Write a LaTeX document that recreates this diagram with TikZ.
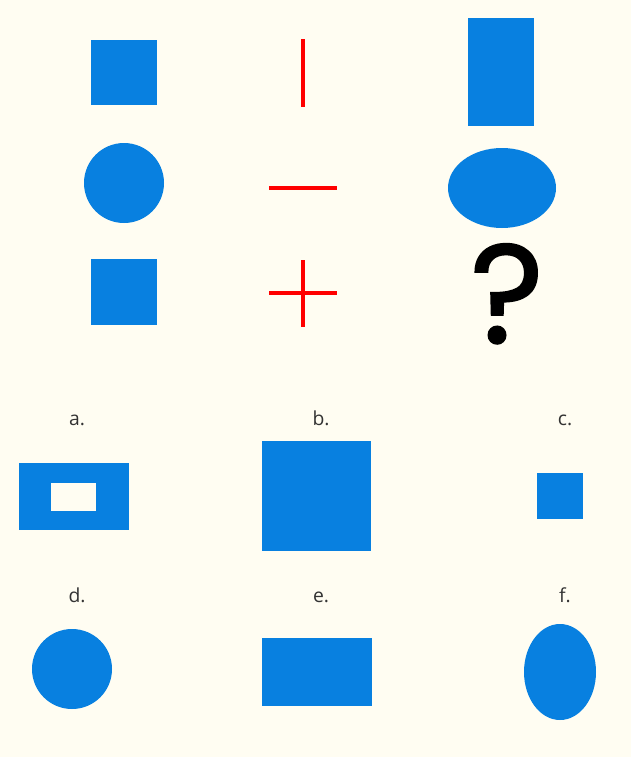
\documentclass[tikz,border=0pt]{standalone}
\usepackage{fontspec}
\setmainfont{Open Sans}
\newfontfamily\questfont{Poppins}[FakeBold=1.3]
\usetikzlibrary{positioning,shapes.geometric}
\definecolor{pzBack}{HTML}{FFFDF2}
\definecolor{pzBlue}{HTML}{0880E0}
\definecolor{pzRed}{HTML}{FF0000}
\definecolor{pzText}{HTML}{333333}
\tikzset{
  blueshape/.style={fill=pzBlue, draw=none, inner sep=0pt, outer sep=0pt},
  bluebox/.style={blueshape, rectangle},
  blueround/.style={blueshape, ellipse},
  holebox/.style={fill=pzBack, draw=none, rectangle, inner sep=0pt},
  redline/.style={pzRed, line width=0.9mm},
  optlabel/.style={font=\fontsize{11}{12}\selectfont, text=pzText, inner sep=0pt, anchor=base},
  questmark/.style={font=\questfont\fontsize{80}{80}\selectfont, inner sep=0pt, anchor=base}
}
\begin{document}
\begin{tikzpicture}[x=0.2mm, y=-0.2mm]
  \fill[pzBack] (0,0) rectangle (631,757);
  \useasboundingbox (0,0) rectangle (631,757);
  % puzzle grid
  \node[bluebox, minimum width=13.2mm, minimum height=13mm] (sqA) at (124,72) {};
  \node[bluebox, minimum width=13.2mm, minimum height=21.6mm] (tall) at (501,72) {};
  \node[blueround, minimum width=16mm, minimum height=16mm] (circA) at (124,183) {};
  \node[blueround, minimum width=21.6mm, minimum height=16mm] (oval) at (502,188) {};
  \node[bluebox, minimum width=13.2mm, minimum height=13.2mm] (sqB) at (124,292) {};
  \draw[redline] (303,39) -- (303,107);
  \draw[redline] (269,188) -- (337,188);
  \draw[redline] (269,293) -- (337,293);
  \draw[redline] (303,260) -- (303,327);
  \node[questmark] (quest) at (507,343) {?};
  % answers
  \node[optlabel] (la) at (77,425) {a.};
  \node[optlabel] (lb) at (321,425) {b.};
  \node[optlabel] (lc) at (565,425) {c.};
  \node[bluebox, minimum width=22mm, minimum height=13.4mm] (optA) at (74,496.5) {};
  \node[holebox, minimum width=9mm, minimum height=5.6mm] (optAhole) at (73.5,497) {};
  \node[bluebox, minimum width=21.8mm, minimum height=22mm] (optB) at (316.5,496) {};
  \node[bluebox, minimum width=9.2mm, minimum height=9.2mm] (optC) at (560,496) {};
  \node[optlabel] (ld) at (77,602) {d.};
  \node[optlabel] (le) at (321,602) {e.};
  \node[optlabel] (lf) at (565,602) {f.};
  \node[blueround, minimum width=16mm, minimum height=16mm] (optD) at (72,669) {};
  \node[bluebox, minimum width=22mm, minimum height=13.6mm] (optE) at (317,672) {};
  \node[blueround, minimum width=14.4mm, minimum height=19.2mm] (optF) at (560,672) {};
\end{tikzpicture}
\end{document}
